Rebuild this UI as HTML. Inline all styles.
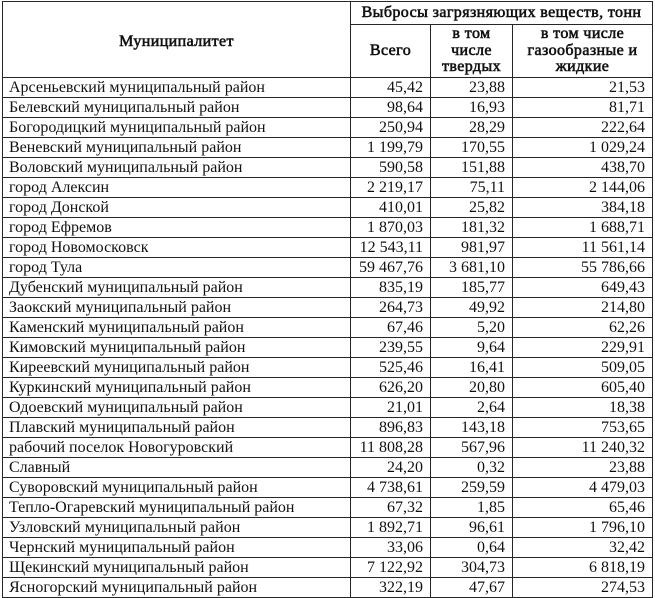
<!DOCTYPE html>
<html><head><meta charset="utf-8">
<style>
html,body{margin:0;padding:0;background:#fff;}
body{width:655px;height:598px;overflow:hidden;position:relative;}
table{position:absolute;left:2px;top:1px;border-collapse:collapse;table-layout:fixed;width:650px;
font-family:"Liberation Serif","DejaVu Serif",serif;color:#111;}
td,th{border:1px solid #262626;padding:0;overflow:hidden;white-space:nowrap;}
th{font-family:"Liberation Serif",serif;font-weight:normal;-webkit-text-stroke:0.6px #111;letter-spacing:0.4px;font-size:16px;text-align:center;line-height:16.5px;color:#111;}
td{font-size:16px;line-height:19px;height:19px;}
td.n{text-align:right;padding-right:7px;}
td.m{padding-left:6px;}
tr.d{height:20px;}
</style></head><body>
<table>
<colgroup><col style="width:348px"><col style="width:80px"><col style="width:82px"><col style="width:140px"></colgroup>
<tr style="height:23px"><th rowspan="2" style="padding-top:6px">Муниципалитет</th><th colspan="3" style="line-height:20px">Выбросы загрязняющих веществ, тонн</th></tr>
<tr style="height:53px"><th style="padding-top:1px">Всего</th><th>в том<br>числе<br>твердых</th><th>в том числе<br>газообразные и<br>жидкие</th></tr>
<tr class="d"><td class="m">Арсеньевский муниципальный район</td><td class="n">45,42</td><td class="n">23,88</td><td class="n">21,53</td></tr>
<tr class="d"><td class="m">Белевский муниципальный район</td><td class="n">98,64</td><td class="n">16,93</td><td class="n">81,71</td></tr>
<tr class="d"><td class="m">Богородицкий муниципальный район</td><td class="n">250,94</td><td class="n">28,29</td><td class="n">222,64</td></tr>
<tr class="d"><td class="m">Веневский муниципальный район</td><td class="n">1 199,79</td><td class="n">170,55</td><td class="n">1 029,24</td></tr>
<tr class="d"><td class="m">Воловский муниципальный район</td><td class="n">590,58</td><td class="n">151,88</td><td class="n">438,70</td></tr>
<tr class="d"><td class="m">город Алексин</td><td class="n">2 219,17</td><td class="n">75,11</td><td class="n">2 144,06</td></tr>
<tr class="d"><td class="m">город Донской</td><td class="n">410,01</td><td class="n">25,82</td><td class="n">384,18</td></tr>
<tr class="d"><td class="m">город Ефремов</td><td class="n">1 870,03</td><td class="n">181,32</td><td class="n">1 688,71</td></tr>
<tr class="d"><td class="m">город Новомосковск</td><td class="n">12 543,11</td><td class="n">981,97</td><td class="n">11 561,14</td></tr>
<tr class="d"><td class="m">город Тула</td><td class="n">59 467,76</td><td class="n">3 681,10</td><td class="n">55 786,66</td></tr>
<tr class="d"><td class="m">Дубенский муниципальный район</td><td class="n">835,19</td><td class="n">185,77</td><td class="n">649,43</td></tr>
<tr class="d"><td class="m">Заокский муниципальный район</td><td class="n">264,73</td><td class="n">49,92</td><td class="n">214,80</td></tr>
<tr class="d"><td class="m">Каменский муниципальный район</td><td class="n">67,46</td><td class="n">5,20</td><td class="n">62,26</td></tr>
<tr class="d"><td class="m">Кимовский муниципальный район</td><td class="n">239,55</td><td class="n">9,64</td><td class="n">229,91</td></tr>
<tr class="d"><td class="m">Киреевский муниципальный район</td><td class="n">525,46</td><td class="n">16,41</td><td class="n">509,05</td></tr>
<tr class="d"><td class="m">Куркинский муниципальный район</td><td class="n">626,20</td><td class="n">20,80</td><td class="n">605,40</td></tr>
<tr class="d"><td class="m">Одоевский муниципальный район</td><td class="n">21,01</td><td class="n">2,64</td><td class="n">18,38</td></tr>
<tr class="d"><td class="m">Плавский муниципальный район</td><td class="n">896,83</td><td class="n">143,18</td><td class="n">753,65</td></tr>
<tr class="d"><td class="m">рабочий поселок Новогуровский</td><td class="n">11 808,28</td><td class="n">567,96</td><td class="n">11 240,32</td></tr>
<tr class="d"><td class="m">Славный</td><td class="n">24,20</td><td class="n">0,32</td><td class="n">23,88</td></tr>
<tr class="d"><td class="m">Суворовский муниципальный район</td><td class="n">4 738,61</td><td class="n">259,59</td><td class="n">4 479,03</td></tr>
<tr class="d"><td class="m">Тепло-Огаревский муниципальный район</td><td class="n">67,32</td><td class="n">1,85</td><td class="n">65,46</td></tr>
<tr class="d"><td class="m">Узловский муниципальный район</td><td class="n">1 892,71</td><td class="n">96,61</td><td class="n">1 796,10</td></tr>
<tr class="d"><td class="m">Чернский муниципальный район</td><td class="n">33,06</td><td class="n">0,64</td><td class="n">32,42</td></tr>
<tr class="d"><td class="m">Щекинский муниципальный район</td><td class="n">7 122,92</td><td class="n">304,73</td><td class="n">6 818,19</td></tr>
<tr class="d"><td class="m">Ясногорский муниципальный район</td><td class="n">322,19</td><td class="n">47,67</td><td class="n">274,53</td></tr>
</table>
</body></html>
